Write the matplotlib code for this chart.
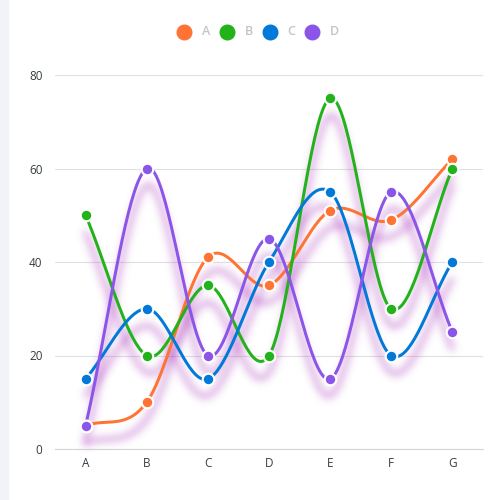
import numpy as np
import matplotlib
matplotlib.use("Agg")
import matplotlib.pyplot as plt
from matplotlib import transforms
from matplotlib.lines import Line2D
from matplotlib.patches import Rectangle

categories = ["A", "B", "C", "D", "E", "F", "G"]
series_names = ["A", "B", "C", "D"]
values_a = [5, 10, 41, 35, 51, 49, 62]
values_b = [50, 20, 35, 20, 75, 30, 60]
values_c = [15, 30, 15, 40, 55, 20, 40]
values_d = [5, 60, 20, 45, 15, 55, 25]
colors = ["#FF7434", "#22B21A", "#0079D8", "#8B55E8"]
y_ticks = [0, 20, 40, 60, 80]

plt.rcParams['font.family'] = ['Open Sans', 'DejaVu Sans']

def smooth(xs, ys, n=40):
    xs = np.asarray(xs, float); ys = np.asarray(ys, float)
    m = np.zeros_like(ys)
    m[1:-1] = (ys[2:] - ys[:-2]) / 2.0
    m[0] = ys[1] - ys[0]
    m[-1] = ys[-1] - ys[-2]
    ox, oy = [], []
    for i in range(len(xs) - 1):
        t = np.linspace(0, 1, n, endpoint=(i == len(xs) - 2))
        h00 = 2*t**3 - 3*t**2 + 1
        h10 = t**3 - 2*t**2 + t
        h01 = -2*t**3 + 3*t**2
        h11 = t**3 - t**2
        ox.extend(xs[i] + t)
        oy.extend(h00*ys[i] + h10*m[i] + h01*ys[i+1] + h11*m[i+1])
    return np.array(ox), np.array(oy)

def gauss_blur(img, sigma):
    r = int(3 * sigma)
    k = np.exp(-0.5 * (np.arange(-r, r + 1) / sigma) ** 2)
    k /= k.sum()
    out = np.apply_along_axis(lambda v: np.convolve(v, k, mode='same'), 0, img)
    out = np.apply_along_axis(lambda v: np.convolve(v, k, mode='same'), 1, out)
    return out

W = H = 500
DPI = 100
AX_RECT = [55/500, 1-449/500, 428/500, 374/500]
XLIM = (-0.5, 6.5)
YLIM = (0, 80)
x = np.arange(len(categories))
series = [values_a, values_b, values_c, values_d]

# ---- shadow layer rendered offscreen, then blurred
def render_shadow(vals):
    f2 = plt.figure(figsize=(W/DPI, H/DPI), dpi=DPI)
    f2.patch.set_alpha(0)
    a2 = f2.add_axes(AX_RECT)
    a2.set_xlim(*XLIM); a2.set_ylim(*YLIM); a2.axis('off')
    tr = transforms.offset_copy(a2.transData, fig=f2, x=0, y=-17, units='dots')
    sx, sy = smooth(x, vals)
    a2.plot(sx, sy, color='black', lw=3.2*0.72, transform=tr,
            solid_capstyle='round', clip_on=False)
    f2.canvas.draw()
    alpha = np.asarray(f2.canvas.buffer_rgba())[..., 3].astype(float) / 255
    plt.close(f2)
    return gauss_blur(alpha, 4.2)

keep = np.ones((H, W))
for vals in series:
    keep *= 1 - np.clip(render_shadow(vals) * 0.72, 0, 1)
shadow = np.zeros((H, W, 4))
shadow[..., 0] = 0xA6 / 255
shadow[..., 1] = 0x30 / 255
shadow[..., 2] = 0xB8 / 255
shadow[..., 3] = 1 - keep

fig = plt.figure(figsize=(W/DPI, H/DPI), dpi=DPI)
fig.patches.append(Rectangle((0, 0), 8/500, 1, transform=fig.transFigure,
                             color="#F2F3F8", zorder=-5))

ax_bg = fig.add_axes(AX_RECT, zorder=0)
ax_bg.set_xlim(*XLIM); ax_bg.set_ylim(*YLIM)
ax_bg.set_yticks(y_ticks)
ax_bg.set_xticks(x)
ax_bg.set_xticklabels(categories)
ax_bg.grid(axis='y', color="#E0E0E0", lw=0.8)
ax_bg.set_axisbelow(True)
for s in ['top', 'right', 'left']:
    ax_bg.spines[s].set_visible(False)
ax_bg.spines['bottom'].set_color("#D6D6D6")
ax_bg.spines['bottom'].set_linewidth(0.8)
ax_bg.tick_params(axis='both', length=0, colors="#373D3F", labelsize=8.5)
ax_bg.tick_params(axis='y', pad=9)
ax_bg.tick_params(axis='x', pad=6)

fig.figimage(shadow, xo=0, yo=0, origin='upper', zorder=0.5)

ax = fig.add_axes(AX_RECT, zorder=1)
ax.set_xlim(*XLIM); ax.set_ylim(*YLIM)
ax.axis('off')
for vals, c in zip(series, colors):
    sx, sy = smooth(x, vals)
    ax.plot(sx, sy, color=c, lw=3*0.72, solid_capstyle='round', zorder=3, clip_on=False)
for vals, c in zip(series, colors):
    ax.plot(x, vals, 'o', color=c, ms=8.3, mec='white', mew=1.5, zorder=5, clip_on=False)

leg_mx = [184, 227, 269.5, 312]
for name, c, mx in zip(series_names, colors, leg_mx):
    fig.add_artist(Line2D([mx/500], [1-31.5/500], transform=fig.transFigure,
                          marker='o', color=c, ms=10.5, mec=c, lw=0))
    fig.text((mx+22)/500, 1-31.5/500, name, color="#C4C4C4", fontsize=9,
             fontweight='semibold', ha='center', va='center')

fig.savefig("out.png", dpi=DPI)
